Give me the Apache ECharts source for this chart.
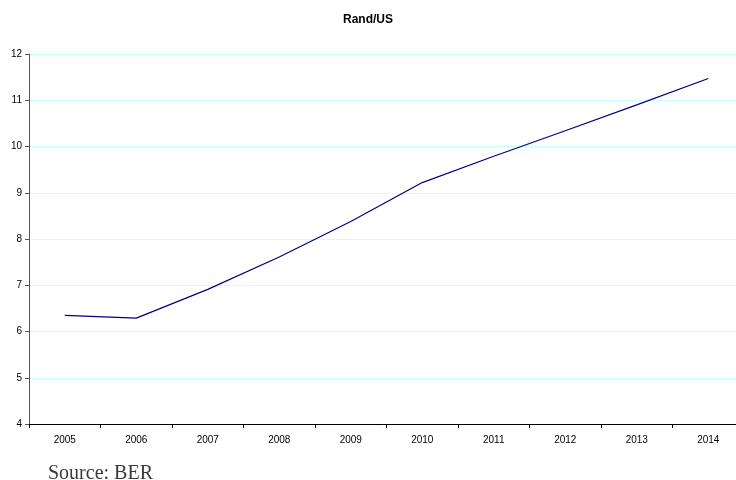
<!DOCTYPE html>
<html>
<head>
<meta charset="utf-8">
<script src="https://cdn.jsdelivr.net/npm/echarts@6/dist/echarts.min.js"></script>
<style>
html,body{margin:0;padding:0;background:#fff;overflow:hidden;}
#main{width:736px;height:480px;}
</style>
</head>
<body>
<div id="main"></div>
<script>
var years = ['2005','2006','2007','2008','2009','2010','2011','2012','2013','2014'];
var randUS = [6.35, 6.29, 6.91, 7.61, 8.38, 9.22, 9.79, 10.34, 10.9, 11.47];
var yTicks = [4, 5, 6, 7, 8, 9, 10, 11, 12];

var chart = echarts.init(document.getElementById('main'));
chart.setOption({
  animation: false,
  backgroundColor: '#fff',
  title: {
    text: 'Rand/US',
    left: 'center',
    top: 9,
    textStyle: {fontFamily: 'Liberation Sans', fontSize: 12, fontWeight: 'bold', color: '#000'}
  },
  graphic: [{
    type: 'text',
    left: 48,
    top: 464,
    style: {text: 'Source: BER', font: '20px "Liberation Serif"', fill: '#3a3a3a'}
  }],
  grid: {left: 29, width: 715, top: 54, bottom: 56, containLabel: false, outerBoundsMode: 'none'},
  xAxis: {
    type: 'category',
    data: years,
    boundaryGap: true,
    axisLine: {lineStyle: {color: '#000', width: 1}},
    axisTick: {show: true, length: 4, lineStyle: {color: '#000'}},
    axisLabel: {fontFamily: 'Liberation Sans', fontSize: 10, color: '#000', margin: 11},
    splitLine: {show: false}
  },
  yAxis: {
    type: 'value',
    min: yTicks[0],
    max: yTicks[yTicks.length - 1],
    interval: 1,
    axisLine: {show: true, lineStyle: {color: '#555', width: 1}},
    axisTick: {show: true, length: 4, lineStyle: {color: '#555'}},
    axisLabel: {fontFamily: 'Liberation Sans', fontSize: 10, color: '#000', margin: 7},
    splitLine: {show: true, lineStyle: {color: '#ccffff', width: 1}}
  },
  series: [{
    type: 'line',
    data: randUS,
    symbol: 'none',
    lineStyle: {color: '#000080', width: 1.2},
    itemStyle: {color: '#000080'}
  }]
});
</script>
</body>
</html>
